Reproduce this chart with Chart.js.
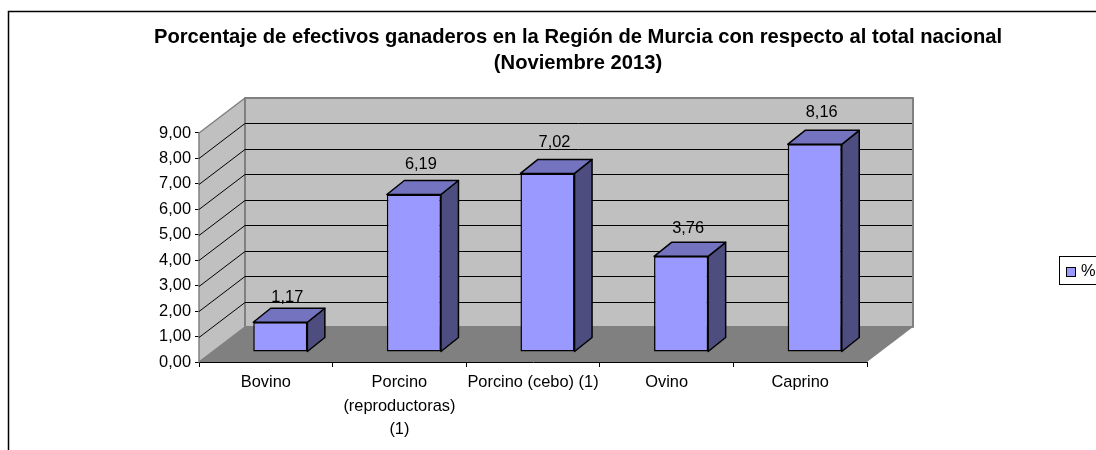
<!DOCTYPE html>
<html>
<head>
<meta charset="utf-8">
<style>html,body{margin:0;padding:0;background:#fff;overflow:hidden}#w{width:1096px;height:450px}</style>
<script src="https://cdn.jsdelivr.net/npm/chart.js@4"></script>
</head>
<body>
<div id="w"><canvas id="c" width="1096" height="450"></canvas></div>
<script>
const categories = ['Bovino', ['Porcino', '(reproductoras)', '(1)'], 'Porcino (cebo) (1)', 'Ovino', 'Caprino'];
const values = [1.17, 6.19, 7.02, 3.76, 8.16];
const seriesName = '%';
const titleLines = ['Porcentaje de efectivos ganaderos en la Región de Murcia con respecto al total nacional', '(Noviembre 2013)'];
const FONT = '"Liberation Sans", Arial, sans-serif';
const fmt = v => Number(v).toFixed(2).replace('.', ',');

const depth = {x: 46, y: -35};
const barShift = {x: 14.5, y: -10};
const barDepth = {x: 17.5, y: -14};

function poly(ctx, pts, fill, stroke, lw) {
  ctx.beginPath();
  pts.forEach((p, i) => i ? ctx.lineTo(p[0], p[1]) : ctx.moveTo(p[0], p[1]));
  ctx.closePath();
  if (fill) { ctx.fillStyle = fill; ctx.fill(); }
  if (stroke) { ctx.strokeStyle = stroke; ctx.lineWidth = lw; ctx.lineJoin = 'round'; ctx.stroke(); }
}

const frame = {
  id: 'frame',
  afterLayout(chart) {
    const t = chart.titleBlock;
    t.left = 60; t.right = 1096; t.top = 24;
  },
  beforeDatasetsDraw(chart) {
    const {ctx, chartArea: a, scales: {y}} = chart;
    const d = depth;
    ctx.save();
    poly(ctx, [[a.left, a.bottom], [a.left, a.top], [a.left + d.x, a.top + d.y], [a.left + d.x, a.bottom + d.y]], '#C0C0C0', '#808080', 1.5);
    poly(ctx, [[a.left + d.x, a.top + d.y], [a.right + d.x, a.top + d.y], [a.right + d.x, a.bottom + d.y], [a.left + d.x, a.bottom + d.y]], '#C0C0C0', '#808080', 2);
    poly(ctx, [[a.left, a.bottom], [a.right, a.bottom], [a.right + d.x, a.bottom + d.y], [a.left + d.x, a.bottom + d.y]], '#808080', null);
    ctx.strokeStyle = '#000';
    ctx.lineWidth = 1;
    y.ticks.forEach(t => {
      if (t.value === 0 || t.value === 9) return;
      const py = Math.round(y.getPixelForValue(t.value)) + 0.5;
      ctx.beginPath();
      ctx.moveTo(a.left, py);
      ctx.lineTo(a.left + d.x, py + d.y);
      ctx.lineTo(a.right + d.x - 1, py + d.y);
      ctx.stroke();
    });
    ctx.restore();
  },
  beforeDatasetDraw(chart, args) {
    const {ctx} = chart;
    const meta = args.meta;
    ctx.save();
    ctx.translate(barShift.x, barShift.y);
    meta.data.forEach(el => {
      const l = el.x - el.width / 2, r = el.x + el.width / 2, t = el.y, b = el.base;
      const dx = barDepth.x, dy = barDepth.y;
      poly(ctx, [[r, t], [r + dx, t + dy], [r + dx, b + dy], [r, b]], '#4D4D80', '#000', 1.5);
      poly(ctx, [[l, t], [l + dx, t + dy], [r + dx, t + dy], [r, t]], '#7373BF', '#000', 1.5);
    });
  },
  afterDatasetDraw(chart) { chart.ctx.restore(); },
  afterDatasetsDraw(chart) {
    const {ctx} = chart;
    const meta = chart.getDatasetMeta(0);
    ctx.save();
    ctx.font = '16.4px ' + FONT;
    ctx.fillStyle = '#000';
    ctx.textAlign = 'center';
    ctx.textBaseline = 'middle';
    meta.data.forEach((el, i) => {
      const off = 25 + values[i];
      ctx.fillText(fmt(values[i]), el.x + barShift.x + 7, el.y + barShift.y - off + 1);
    });
    // legend
    ctx.strokeStyle = '#000';
    ctx.lineWidth = 1;
    ctx.fillStyle = '#fff';
    ctx.fillRect(1059.5, 256.5, 60, 28);
    ctx.strokeRect(1059.5, 256.5, 60, 28);
    ctx.fillStyle = chart.data.datasets[0].backgroundColor;
    ctx.fillRect(1066.5, 267.5, 9, 9);
    ctx.strokeRect(1066.5, 267.5, 9, 9);
    ctx.fillStyle = '#000';
    ctx.textAlign = 'left';
    ctx.fillText(seriesName, 1081, 271);
    // outer frame
    ctx.lineWidth = 1.5;
    ctx.beginPath();
    ctx.moveTo(8.5, 450);
    ctx.lineTo(8.5, 11.5);
    ctx.lineTo(1096, 11.5);
    ctx.stroke();
    ctx.restore();
  }
};

new Chart(document.getElementById('c'), {
  type: 'bar',
  data: {
    labels: categories,
    datasets: [{
      label: seriesName,
      data: values,
      backgroundColor: '#9999FF',
      borderColor: '#000',
      borderWidth: 1.5,
      borderSkipped: false,
      barPercentage: 0.405,
      categoryPercentage: 1,
      clip: false
    }]
  },
  plugins: [frame],
  options: {
    responsive: false,
    animation: false,
    layout: {padding: {left: 0, top: 81, right: 229, bottom: 0}},
    plugins: {
      legend: {display: false},
      tooltip: {enabled: false},
      title: {
        display: true,
        text: titleLines,
        color: '#000',
        font: {family: FONT, size: 20.2, weight: 'bold', lineHeight: 1.287},
        padding: 0
      }
    },
    scales: {
      x: {
        afterFit(s) { s.height = 88; },
        grid: {drawOnChartArea: false, color: '#000', tickLength: 5, tickColor: '#000'},
        border: {color: '#000', width: 1},
        ticks: {color: '#000', font: {family: FONT, size: 16.4, lineHeight: 1.43}, maxRotation: 0, autoSkip: false, padding: 4}
      },
      y: {
        min: 0,
        max: 9,
        afterFit(s) { s.width = 199; },
        grid: {drawOnChartArea: false, color: '#000', tickLength: 4, tickColor: '#000'},
        border: {color: '#000', width: 1},
        ticks: {color: '#000', stepSize: 1, font: {family: FONT, size: 16.4}, padding: 4, callback: v => fmt(v)}
      }
    }
  }
});
</script>
</body>
</html>
